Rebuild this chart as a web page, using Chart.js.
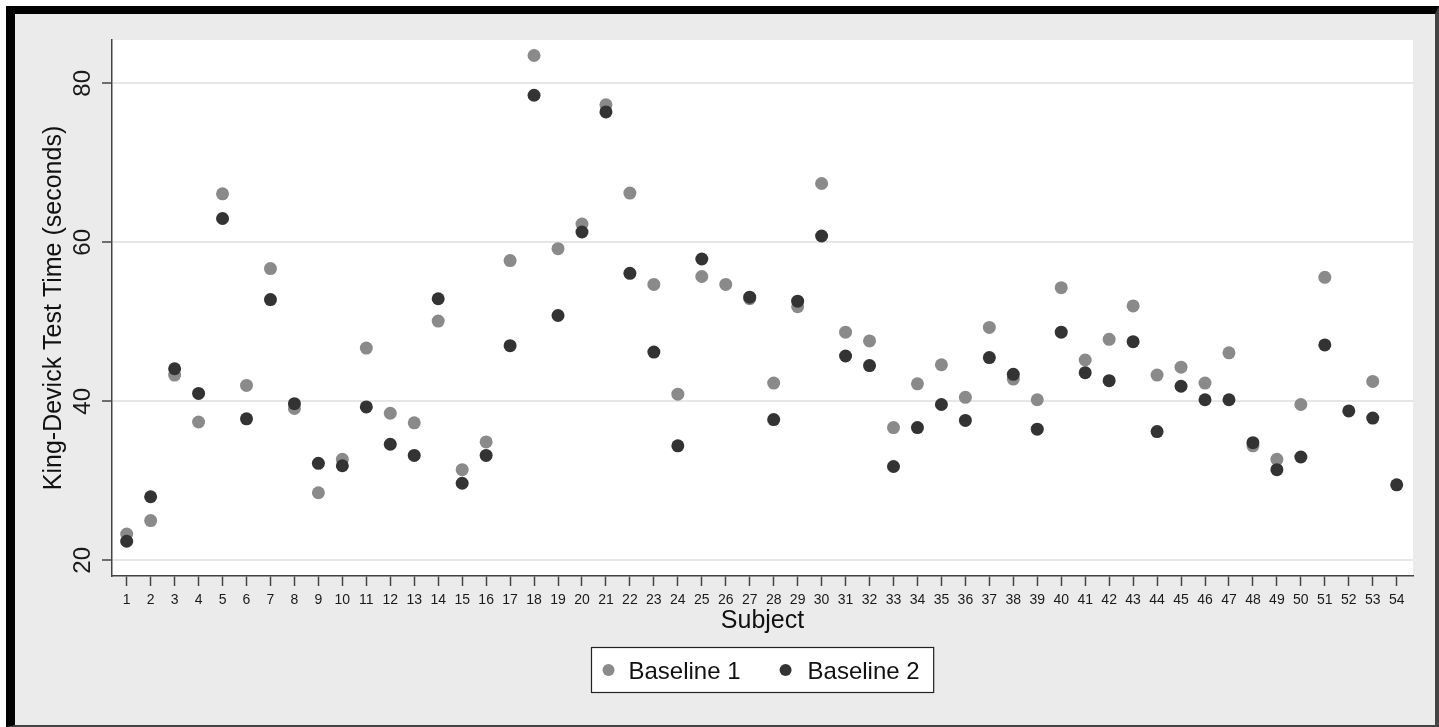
<!DOCTYPE html>
<html>
<head>
<meta charset="utf-8">
<title>King-Devick Test Time by Subject</title>
<script src="https://cdn.jsdelivr.net/npm/chart.js@4/dist/chart.umd.min.js"></script>
<style>
    html, body { margin: 0; padding: 0; background: #ffffff; }
    #frame {
        position: absolute;
        left: 6px;
        top: 6px;
        width: 1420px;
        height: 711px;
        border-left: 9px solid #000;
        border-top: 8px solid #000;
        border-right: 4px solid #444;
        border-bottom: 2px solid #444;
        background: #ebebeb;
    }
    canvas { display: block; }
</style>
</head>
<body>
<div id="frame">
    <canvas id="kdChart" width="1420" height="711"></canvas>
</div>
<script>
// Subjects on the x axis
const subjects = [1, 2, 3, 4, 5, 6, 7, 8, 9, 10, 11, 12, 13, 14, 15, 16, 17, 18,
    19, 20, 21, 22, 23, 24, 25, 26, 27, 28, 29, 30, 31, 32, 33, 34, 35, 36,
    37, 38, 39, 40, 41, 42, 43, 44, 45, 46, 47, 48, 49, 50, 51, 52, 53, 54];

// Test times (seconds), null where no point is shown
const baseline1 = [23.3, 25.0, 43.3, 37.4, 66.1, 42.0, 56.7, 39.1, 28.5, 32.7,
    46.7, 38.5, 37.3, 50.1, 31.4, 34.9, 57.7, 83.5, 59.2, 62.3,
    77.3, 66.2, 54.7, 40.9, 55.7, 54.7, 52.9, 42.3, 51.9, 67.4,
    48.7, 47.6, 36.7, 42.2, 44.6, 40.5, 49.3, 42.8, 40.2, 54.3,
    45.2, 47.8, 52.0, 43.3, 44.3, 42.3, 46.1, 34.4, 32.7, 39.6,
    55.6, null, 42.5, null];

const baseline2 = [22.4, 28.0, 44.1, 41.0, 63.0, 37.8, 52.8, 39.7, 32.2, 31.9,
    39.3, 34.6, 33.2, 52.9, 29.7, 33.2, 47.0, 78.5, 50.8, 61.3,
    76.4, 56.1, 46.2, 34.4, 57.9, null, 53.1, 37.7, 52.6, 60.8,
    45.7, 44.5, 31.8, 36.7, 39.6, 37.6, 45.5, 43.4, 36.5, 48.7,
    43.6, 42.6, 47.5, 36.2, 41.9, 40.2, 40.2, 34.8, 31.4, 33.0,
    47.1, 38.8, 37.9, 29.5];

const yTicks = [20, 40, 60, 80];
const seriesNames = ['Baseline 1', 'Baseline 2'];

const FONT = '"Liberation Sans", Arial, Helvetica, sans-serif';
const lightGray = '#8a8a8a';
const darkGray = '#333333';

function toPoints(values) {
    return subjects.map((s, i) => ({ x: s, y: values[i] }));
}

// White plot region behind the points
const plotBackground = {
    id: 'plotBackground',
    beforeDraw(chart) {
        const { ctx, chartArea } = chart;
        ctx.save();
        ctx.fillStyle = '#ffffff';
        ctx.fillRect(chartArea.left, chartArea.top,
            chartArea.right - chartArea.left, chartArea.bottom - chartArea.top);
        ctx.restore();
    }
};

// Vertical y tick labels, as in the original figure
const rotatedYLabels = {
    id: 'rotatedYLabels',
    afterDraw(chart) {
        const { ctx } = chart;
        const scale = chart.scales.y;
        ctx.save();
        ctx.font = '24px ' + FONT;
        ctx.fillStyle = '#1a1a1a';
        ctx.textAlign = 'center';
        ctx.textBaseline = 'alphabetic';
        yTicks.forEach(v => {
            const y = scale.getPixelForValue(v);
            ctx.save();
            ctx.translate(scale.right - 22, y);
            ctx.rotate(-Math.PI / 2);
            ctx.fillText(String(v), 0, 0);
            ctx.restore();
        });
        ctx.restore();
    }
};

// Boxed legend below the axis title
const boxedLegend = {
    id: 'boxedLegend',
    afterDraw(chart) {
        const { ctx, chartArea } = chart;
        ctx.save();
        ctx.font = '24px ' + FONT;
        const w1 = ctx.measureText(chart.data.datasets[0].label).width;
        const w2 = ctx.measureText(chart.data.datasets[1].label).width;
        const boxW = 17 + 20 + w1 + 45 + 22 + w2 + 14;
        const boxH = 45;
        const cx = (chartArea.left + chartArea.right) / 2;
        const x0 = Math.round(cx - boxW / 2) + 0.5;
        const y0 = 633.5;

        ctx.fillStyle = '#ffffff';
        ctx.fillRect(x0, y0, boxW, boxH);
        ctx.strokeStyle = '#222';
        ctx.lineWidth = 1.2;
        ctx.strokeRect(x0, y0, boxW, boxH);

        const midY = y0 + 22.5;
        const items = [
            { dot: x0 + 17, color: chart.data.datasets[0].backgroundColor, text: chart.data.datasets[0].label },
            { dot: x0 + 17 + 20 + w1 + 45, color: chart.data.datasets[1].backgroundColor, text: chart.data.datasets[1].label }
        ];
        items.forEach((it, i) => {
            ctx.beginPath();
            ctx.arc(it.dot, midY, 6, 0, Math.PI * 2);
            ctx.fillStyle = it.color;
            ctx.fill();
            ctx.fillStyle = '#111';
            ctx.textBaseline = 'alphabetic';
            ctx.textAlign = 'left';
            ctx.fillText(it.text, it.dot + (i === 0 ? 20 : 22), midY + 8.5);
        });
        ctx.restore();
    }
};

function drawChart() {
    const ctx = document.getElementById('kdChart').getContext('2d');
    new Chart(ctx, {
        type: 'scatter',
        data: {
            datasets: [
                {
                    label: seriesNames[0],
                    data: toPoints(baseline1),
                    backgroundColor: lightGray,
                    borderWidth: 0,
                    pointRadius: 6.5,
                    order: 2
                },
                {
                    label: seriesNames[1],
                    data: toPoints(baseline2),
                    backgroundColor: darkGray,
                    borderWidth: 0,
                    pointRadius: 6.5,
                    order: 1
                }
            ]
        },
        options: {
            responsive: false,
            animation: false,
            layout: { padding: { left: 0, top: 26, right: 22, bottom: 74 } },
            plugins: {
                legend: { display: false },
                tooltip: { enabled: false }
            },
            scales: {
                x: {
                    type: 'linear',
                    min: 0.387,
                    max: 54.68,
                    afterBuildTicks: scale => {
                        scale.ticks = subjects.map(v => ({ value: v }));
                    },
                    afterFit: scale => { scale.height = 75; },
                    border: { display: true, color: '#444', width: 1.5 },
                    grid: {
                        drawOnChartArea: false,
                        drawTicks: true,
                        tickLength: 10,
                        tickColor: '#444',
                        tickWidth: 1.5
                    },
                    ticks: {
                        autoSkip: false,
                        maxRotation: 0,
                        minRotation: 0,
                        padding: 6,
                        color: '#1a1a1a',
                        font: { family: FONT, size: 14 },
                        callback: v => String(v)
                    },
                    title: {
                        display: true,
                        text: 'Subject',
                        color: '#111',
                        font: { family: FONT, size: 25 },
                        padding: { top: 0, bottom: 15 }
                    }
                },
                y: {
                    min: 18.03,
                    max: 85.45,
                    afterBuildTicks: scale => {
                        scale.ticks = yTicks.map(v => ({ value: v }));
                    },
                    afterFit: scale => { scale.width = 97; },
                    border: { display: true, color: '#444', width: 1.5 },
                    grid: {
                        color: '#e6e6e6',
                        lineWidth: 2,
                        drawTicks: true,
                        tickLength: 10,
                        tickColor: '#444',
                        tickWidth: 1.5
                    },
                    ticks: { display: false },
                    title: {
                        display: true,
                        text: 'King-Devick Test Time (seconds)',
                        color: '#111',
                        font: { family: FONT, size: 25 },
                        padding: { top: 24, bottom: 0 }
                    }
                }
            }
        },
        plugins: [plotBackground, rotatedYLabels, boxedLegend]
    });
}

window.onload = function() {
    drawChart();
};
</script>
</body>
</html>
